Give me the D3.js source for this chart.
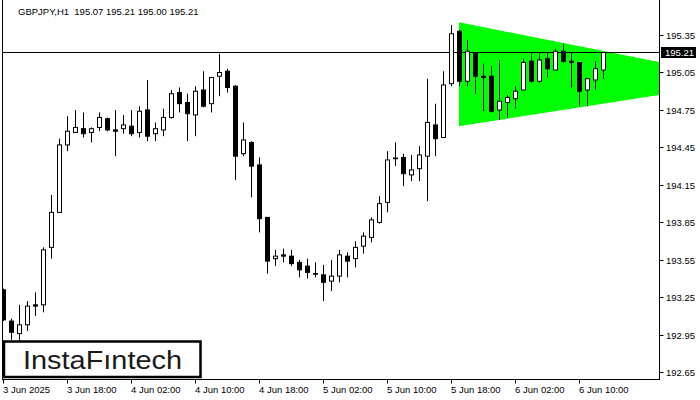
<!DOCTYPE html>
<html>
<head>
<meta charset="utf-8">
<script src="https://cdn.jsdelivr.net/npm/d3@7/dist/d3.min.js"></script>
<style>
  html, body { margin: 0; padding: 0; background: #fff; }
  svg { display: block; }
  text { font-family: "Liberation Sans", Arial, sans-serif; }
</style>
</head>
<body>
<svg id="chart" width="700" height="400"></svg>
<script>
// ---- data (GBPJPY, H1) ----
const opens  = [193.31,193.06,192.96,193.03,193.19,193.19,193.65,193.93,194.47,194.57,
                194.60,194.57,194.61,194.68,194.59,194.60,194.62,194.57,194.75,194.56,
                194.59,194.69,194.89,194.81,194.71,194.91,194.80,195.02,195.06,194.94,
                194.40,194.49,194.31,193.89,193.56,193.59,193.58,193.53,193.50,193.44,
                193.43,193.38,193.42,193.58,193.56,193.66,193.73,193.85,194.01,194.36,
                194.37,194.23,194.28,194.38,194.63,194.53,194.96,195.38,194.98,195.21,
                195.02,195.02,194.75,194.81,194.84,194.91,195.14,194.98,195.16,195.07,
                195.22,195.14,195.13,194.91,194.99,195.07];
const highs  = [193.32,193.08,193.19,193.22,193.29,193.65,194.07,194.52,194.70,194.75,
                194.73,194.61,194.73,194.69,194.75,194.71,194.75,194.78,194.99,194.65,
                194.76,194.91,194.93,194.88,194.94,195.06,195.01,195.20,195.08,194.95,
                194.65,194.50,194.37,193.89,193.63,193.64,193.63,193.55,193.56,193.53,
                193.51,193.55,193.63,193.61,193.70,193.77,193.89,194.06,194.42,194.49,
                194.40,194.39,194.46,195.00,194.80,195.06,195.43,195.39,195.31,195.21,
                195.12,195.10,195.15,194.87,194.94,195.16,195.21,195.21,195.21,195.24,
                195.28,195.21,195.13,195.00,195.14,195.21];
const lows   = [193.06,192.91,192.90,192.98,193.10,193.13,193.56,193.93,194.42,194.57,
                194.53,194.49,194.58,194.58,194.38,194.56,194.54,194.53,194.50,194.50,
                194.54,194.68,194.73,194.50,194.54,194.77,194.73,194.86,194.89,194.19,
                194.38,194.05,193.77,193.44,193.50,193.53,193.50,193.41,193.40,193.41,
                193.22,193.30,193.37,193.41,193.49,193.60,193.69,193.84,193.93,194.30,
                194.14,194.18,194.18,194.02,194.38,194.53,194.94,194.94,194.94,194.88,
                194.74,194.73,194.67,194.69,194.76,194.91,194.97,194.97,195.01,195.07,
                195.13,194.93,194.78,194.78,194.91,195.00];
const closes = [193.07,192.97,193.03,193.18,193.18,193.63,193.93,194.47,194.58,194.61,
                194.56,194.60,194.69,194.59,194.58,194.63,194.56,194.74,194.54,194.60,
                194.69,194.88,194.80,194.72,194.90,194.78,195.01,195.05,194.93,194.38,
                194.51,194.30,193.88,193.54,193.58,193.58,193.52,193.47,193.45,193.435,
                193.37,193.42,193.59,193.54,193.65,193.74,193.87,194.00,194.35,194.365,
                194.24,194.27,194.39,194.65,194.52,194.95,195.36,194.98,195.22,195.02,
                195.01,194.74,194.82,194.85,194.90,195.13,194.98,195.15,195.08,195.22,
                195.14,195.13,194.90,195.00,195.08,195.21];

const xTickIndex  = [0, 8, 16, 24, 32, 40, 48, 56, 64, 72];
const xTickLabels = ["3 Jun 2025","3 Jun 18:00","4 Jun 02:00","4 Jun 10:00","4 Jun 18:00",
                     "5 Jun 02:00","5 Jun 10:00","5 Jun 18:00","6 Jun 02:00","6 Jun 10:00"];
const yTicks = [192.65, 192.95, 193.25, 193.55, 193.85, 194.15, 194.45, 194.75, 195.05, 195.35];
const yTickLabels = ["192.65","192.95","193.25","193.55","193.85","194.15","194.45","194.75","195.05","195.35"];

// triangle pattern: [barIndex, price]
const triangle = [[57, 195.452], [82, 195.134], [82, 194.87], [57, 194.62]];
const lastPrice = 195.21;
const title = "GBPJPY,H1\u00a0\u00a0195.07 195.21 195.00 195.21";
const logoText = "InstaF\u0131ntech";

// ---- layout ----
const svg = d3.select("#chart");
const left = 3, right = 659, bottom = 379;
const x = d3.scaleLinear().domain([0, 82]).range([left, right]);
const y = d3.scaleLinear().domain([192.65, 195.35]).range([372.3, 35]);

svg.append("defs").append("clipPath").attr("id", "plot")
  .append("rect").attr("x", left).attr("y", 0).attr("width", right - left).attr("height", bottom);

const plot = svg.append("g").attr("clip-path", "url(#plot)");

// green triangle
plot.append("polygon")
  .attr("points", triangle.map(d => [x(d[0]), y(d[1])].join(",")).join(" "))
  .attr("fill", "#00ff00");

// last price line
plot.append("line")
  .attr("x1", left).attr("x2", right)
  .attr("y1", Math.round(y(lastPrice)) + 0.5).attr("y2", Math.round(y(lastPrice)) + 0.5)
  .attr("stroke", "#000").attr("stroke-width", 1);

// candles
const bars = d3.range(opens.length).map(i => ({i, o: opens[i], h: highs[i], l: lows[i], c: closes[i]}));
const g = plot.append("g").selectAll("g").data(bars).join("g");
g.append("line")
  .attr("x1", d => Math.round(x(d.i)) + 0.5).attr("x2", d => Math.round(x(d.i)) + 0.5)
  .attr("y1", d => y(d.h)).attr("y2", d => y(d.l))
  .attr("stroke", "#000").attr("stroke-width", 1);
g.append("rect")
  .attr("x", d => Math.round(x(d.i)) - 1.5)
  .attr("width", 4)
  .attr("y", d => y(Math.max(d.o, d.c)))
  .attr("height", d => Math.max(0.5, Math.abs(y(d.o) - y(d.c))))
  .attr("fill", d => d.c >= d.o ? "#fff" : "#000")
  .attr("stroke", "#000").attr("stroke-width", 1);

// frame
svg.append("rect")
  .attr("x", 2.5).attr("y", -1).attr("width", right - 2.5 + 0.5).attr("height", bottom + 1.5)
  .attr("fill", "none").attr("stroke", "#000").attr("stroke-width", 1);

// y axis
const yAxis = svg.append("g").attr("transform", `translate(${right + 0.5},0)`);
yTicks.forEach((v, k) => {
  const yy = Math.round(y(v)) + 0.5;
  yAxis.append("line").attr("x1", 0).attr("x2", 4).attr("y1", yy).attr("y2", yy).attr("stroke", "#000");
  yAxis.append("text").attr("x", 6.5).attr("y", yy + 3.5)
    .attr("font-size", "9.5px").attr("fill", "#000").text(yTickLabels[k]);
});
// last price label
const ly = y(lastPrice);
yAxis.append("rect").attr("x", 1.5).attr("y", ly - 5.5).attr("width", 35).attr("height", 11).attr("fill", "#000");
yAxis.append("text").attr("x", 5.5).attr("y", ly + 3.5)
  .attr("font-size", "9.5px").attr("fill", "#fff").text(lastPrice.toFixed(2));

// x axis
const xAxis = svg.append("g").attr("transform", `translate(0,${bottom + 0.5})`);
xTickIndex.forEach((idx, k) => {
  const xx = Math.round(x(idx)) + 0.5;
  xAxis.append("line").attr("x1", xx).attr("x2", xx).attr("y1", 0).attr("y2", 4).attr("stroke", "#000");
  xAxis.append("text").attr("x", xx - 0.5).attr("y", 13)
    .attr("font-size", "9.5px").attr("fill", "#000").text(xTickLabels[k]);
});

// title
svg.append("text").attr("x", 18).attr("y", 14.5)
  .attr("font-size", "9.5px").attr("fill", "#000").text(title);

// logo
svg.append("rect").attr("x", 4).attr("y", 341.5).attr("width", 196.5).attr("height", 35.5)
  .attr("fill", "#fff").attr("stroke", "#000").attr("stroke-width", 2.5);
svg.append("text").attr("x", 23).attr("y", 368.5)
  .attr("font-family", "Inter, 'Open Sans', sans-serif")
  .attr("font-size", "25px").attr("font-weight", 500).attr("fill", "#1a1a1a")
  .attr("textLength", 159).attr("lengthAdjust", "spacingAndGlyphs")
  .text(logoText);
</script>
</body>
</html>
